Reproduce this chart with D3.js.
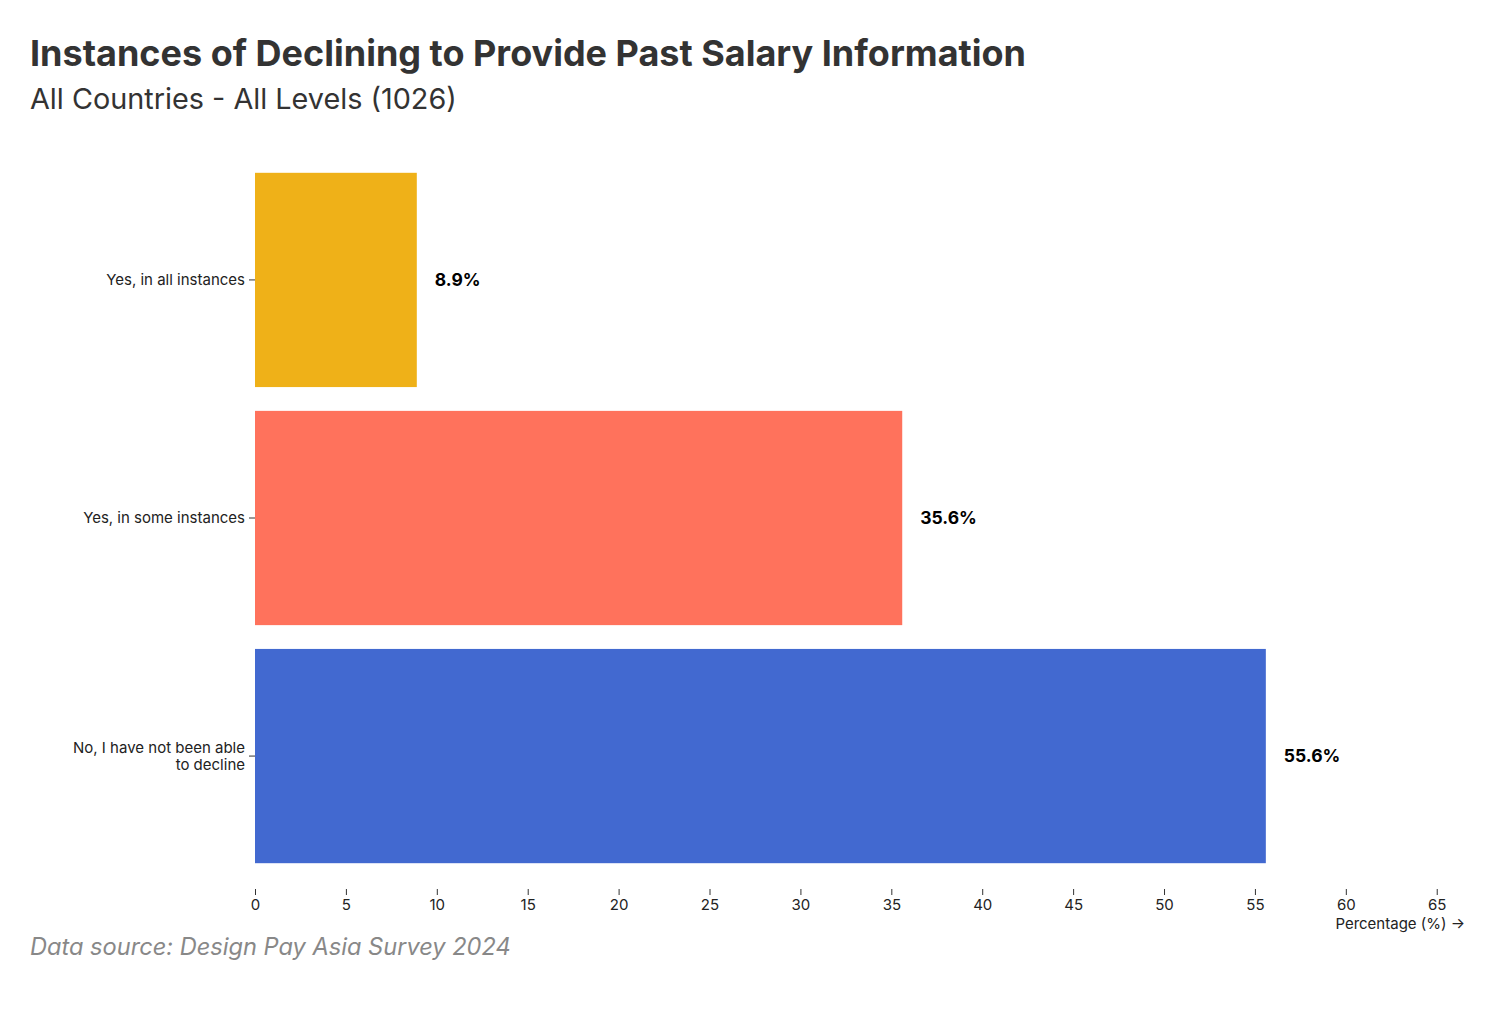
<!DOCTYPE html>
<html><head><meta charset="utf-8">
<script src="https://cdn.jsdelivr.net/npm/d3@7"></script>
<style>body{margin:0;background:#fff;font-family:Inter,"Noto Sans",sans-serif}</style>
</head><body>
<svg id="c" width="1500" height="1022"></svg>
<script>
const categories = ["Yes, in all instances", "Yes, in some instances", "No, I have not been able to decline"];
const categoryLines = [["Yes, in all instances"], ["Yes, in some instances"], ["No, I have not been able", "to decline"]];
const values = [8.9, 35.6, 55.6];
const colors = ["#efb118", "#ff725c", "#4269d0"];
const xTicks = [0,5,10,15,20,25,30,35,40,45,50,55,60,65];

const svg = d3.select("#c");
const font = "Inter, 'Noto Sans', sans-serif";

svg.append("text").attr("x",30).attr("y",66).attr("font-size",36).attr("font-weight",700)
  .attr("fill","#333").attr("font-family",font).text("Instances of Declining to Provide Past Salary Information");
svg.append("text").attr("x",30).attr("y",109).attr("font-size",28.8).attr("fill","#333")
  .attr("font-family",font).text("All Countries - All Levels (1026)");

const x = d3.scaleLinear().domain([0, 66.5]).range([255, 1464]);
const y = d3.scaleBand().domain(categories).range([149, 887]).paddingInner(0.1).paddingOuter(0.1);

svg.append("g").selectAll("rect").data(categories).join("rect")
  .attr("x", x(0)).attr("y", d=>y(d)).attr("height", y.bandwidth())
  .attr("width", (d,i)=>x(values[i])-x(0)).attr("fill",(d,i)=>colors[i]);

svg.append("g").selectAll("text").data(categories).join("text")
  .attr("x",(d,i)=>x(values[i])+18).attr("y",d=>y(d)+y.bandwidth()/2)
  .attr("dy","0.35em").attr("font-size",17.5).attr("font-weight",700).attr("fill","#000")
  .attr("font-family",font).text((d,i)=>values[i].toFixed(1)+"%");

// y axis
const ya = svg.append("g");
const lh = 17;
categories.forEach((c,i)=>{
  const cy = y(c)+y.bandwidth()/2;
  ya.append("line").attr("x1",249).attr("x2",255).attr("y1",cy).attr("y2",cy).attr("stroke","#333");
  const lines = categoryLines[i];
  const t = ya.append("text").attr("x",245).attr("y",cy).attr("text-anchor","end")
    .attr("font-size",15).attr("fill","#222").attr("font-family",font);
  lines.forEach((l,j)=>{
    t.append("tspan").attr("x",245).attr("y",cy + (j-(lines.length-1)/2)*lh).attr("dy","0.35em").text(l);
  });
});

// x axis
const xa = svg.append("g").attr("transform","translate(0,889)")
  .call(d3.axisBottom(x).tickValues(xTicks).tickSize(6).tickPadding(4).tickFormat(d3.format("d")));
xa.select(".domain").remove();
xa.selectAll(".tick line").attr("stroke","#333");
xa.selectAll(".tick text").attr("font-size",15).attr("fill","#222").attr("font-family",font);

svg.append("text").attr("x",1465).attr("y",929).attr("text-anchor","end").attr("font-size",15)
  .attr("fill","#222").attr("font-family",font).text("Percentage (%) →");

svg.append("text").attr("x",30).attr("y",955).attr("font-size",23.6).attr("font-style","italic")
  .attr("fill","#888").attr("font-family",font).text("Data source: Design Pay Asia Survey 2024");
</script>
</body></html>
